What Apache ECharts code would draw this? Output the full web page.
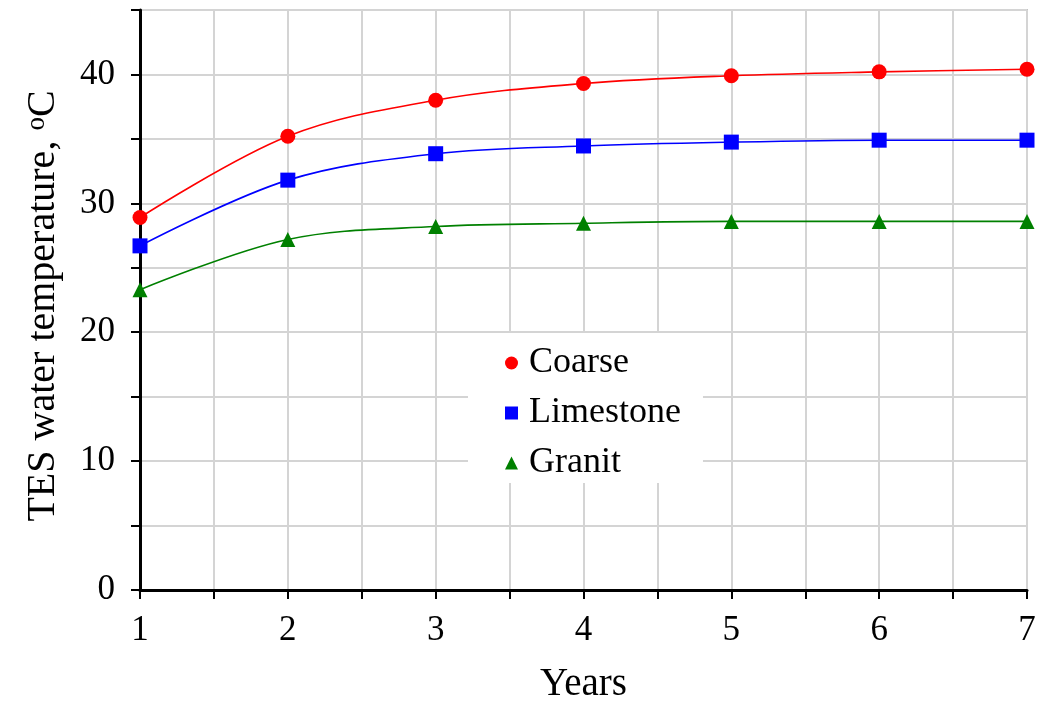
<!DOCTYPE html>
<html>
<head>
<meta charset="utf-8">
<script src="https://cdn.jsdelivr.net/npm/echarts@6/dist/echarts.min.js"></script>
<style>html,body{margin:0;padding:0;background:#fff;}#c{width:1037px;height:701px;}</style>
</head>
<body>
<div id="c"></div>
<script>
const years = [1, 2, 3, 4, 5, 6, 7];
const coarse = [28.9, 35.2, 38.0, 39.3, 39.9, 40.2, 40.4];
const limestone = [26.7, 31.8, 33.85, 34.45, 34.75, 34.9, 34.9];
const granit = [23.3, 27.2, 28.2, 28.45, 28.6, 28.6, 28.6];
const seriesNames = ['Coarse', 'Limestone', 'Granit'];

const FONT = '"Liberation Serif", "Times New Roman", serif';
const chart = echarts.init(document.getElementById('c'), null, {renderer: 'canvas'});
function pts(v) { return years.map((x, i) => [x, v[i]]); }
function mk(name, data, color, symbol, size) {
  return {
    name: name, type: 'line', data: pts(data), smooth: 0.35,
    symbol: symbol, symbolSize: size, showSymbol: true,
    lineStyle: {color: color, width: 1.6},
    itemStyle: {color: color},
    emphasis: {disabled: true}, z: 5
  };
}
chart.setOption({
  animation: false,
  backgroundColor: '#fff',
  grid: {left: 140, right: 10, top: 10, bottom: 111, outerBoundsMode: 'none', containLabel: false,
    show: true, borderColor: '#333', borderWidth: 1.2, backgroundColor: 'transparent'},
  xAxis: {
    type: 'value', min: 1, max: 7, interval: 0.5,
    name: 'Years', nameLocation: 'middle', nameGap: 75,
    nameTextStyle: {fontFamily: FONT, fontSize: 39, color: '#000'},
    axisLine: {show: true, onZero: false, lineStyle: {color: '#000', width: 3}},
    axisTick: {show: true, inside: false, length: 9, lineStyle: {color: '#000', width: 2}},
    axisLabel: {margin: 23, fontFamily: FONT, fontSize: 35, color: '#000',
      formatter: v => (Math.abs(v - Math.round(v)) < 1e-9 ? String(Math.round(v)) : '')},
    splitLine: {show: true, lineStyle: {color: '#d4d4d4', width: 2}}
  },
  yAxis: {
    type: 'value', min: 0, max: 45, interval: 5,
    name: 'TES water temperature, {sup|o}C', nameLocation: 'middle', nameGap: 76, nameRotate: 90,
    nameTextStyle: {fontFamily: FONT, fontSize: 40, color: '#000', padding: [0, 12, 0, 0],
      rich: {sup: {fontFamily: FONT, fontSize: 27, color: '#000', verticalAlign: 'top', padding: [0, 0, 14, 0]}}},
    axisLine: {show: true, onZero: false, lineStyle: {color: '#000', width: 3}},
    axisTick: {show: true, inside: false, length: 9, lineStyle: {color: '#000', width: 2}},
    axisLabel: {margin: 25, fontFamily: FONT, fontSize: 35, color: '#000',
      formatter: v => (v % 10 === 0 ? String(v) : '')},
    splitLine: {show: true, lineStyle: {color: '#d4d4d4', width: 2}}
  },
  legend: {
    orient: 'vertical', left: 468, top: 333,
    padding: [12, 22, 2, 37], itemGap: 14,
    backgroundColor: '#fff', itemWidth: 13, itemHeight: 13,
    textStyle: {fontFamily: FONT, fontSize: 36, color: '#000', lineHeight: 36, padding: [0, 0, 0, 6]},
    data: [
      {name: seriesNames[0], icon: 'circle'},
      {name: seriesNames[1], icon: 'rect'},
      {name: seriesNames[2], icon: 'triangle'}
    ],
    z: 10
  },
  series: [
    mk(seriesNames[0], coarse, '#ff0000', 'circle', 15),
    mk(seriesNames[1], limestone, '#0000ff', 'rect', 15),
    mk(seriesNames[2], granit, '#008000', 'triangle', 15)
  ]
});
</script>
</body>
</html>
